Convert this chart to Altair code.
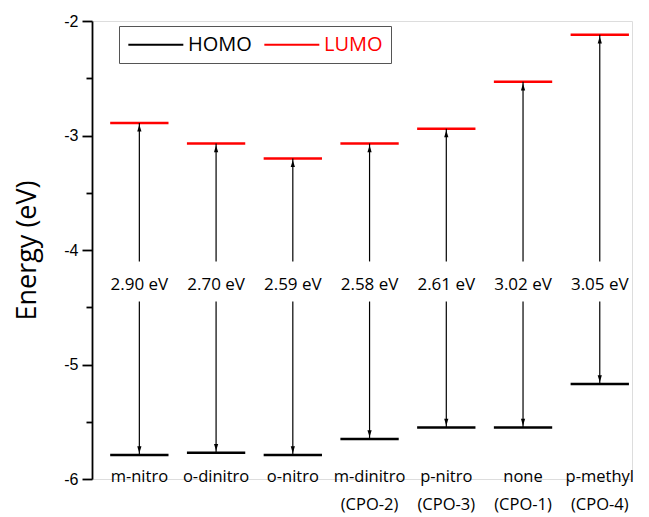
import altair as alt
import pandas as pd

categories = ["m-nitro", "o-dinitro", "o-nitro", "m-dinitro\n(CPO-2)",
              "p-nitro\n(CPO-3)", "none\n(CPO-1)", "p-methyl\n(CPO-4)"]
homo = [-5.79, -5.77, -5.79, -5.65, -5.55, -5.55, -5.17]
lumo = [-2.89, -3.07, -3.20, -3.07, -2.94, -2.53, -2.12]
gap_labels = ["2.90 eV", "2.70 eV", "2.59 eV", "2.58 eV", "2.61 eV", "3.02 eV", "3.05 eV"]
y_ticks = [-6, -5.5, -5, -4.5, -4, -3.5, -3, -2.5, -2]

pos = list(range(1, len(categories) + 1))
base_df = pd.DataFrame({"pos": pos, "cat": categories, "homo": homo,
                        "lumo": lumo, "gap": gap_labels})
levels_df = pd.DataFrame({
    "pos": pos + pos,
    "orbital": ["HOMO"] * len(pos) + ["LUMO"] * len(pos),
    "energy": homo + lumo,
})

FONT = "Open Sans"
xs = alt.Scale(domain=[0.383, 7.42], nice=False, zero=False)
ys = alt.Scale(domain=[-6, -2], nice=False, zero=False)

levels = alt.Chart(levels_df).transform_calculate(
    x1="datum.pos - 0.38", x2="datum.pos + 0.38"
).mark_rule(strokeWidth=2.5).encode(
    x=alt.X("x1:Q", scale=xs, axis=None),
    x2="x2:Q",
    y=alt.Y("energy:Q", scale=ys, title="Energy (eV)",
            axis=alt.Axis(values=y_ticks,
                          labelExpr="datum.value % 1 === 0 ? '' + datum.value : ''",
                          tickSize={"condition": {"test": "datum.value % 1 === 0", "value": 10}, "value": 6},
                          tickWidth=1.8, domainWidth=1.8, domainColor="black", tickColor="black",
                          labelFont="Liberation Sans", labelFontSize=16, labelColor="black",
                          labelPadding=4, grid=False,
                          titleFont=FONT, titleFontSize=27, titleFontWeight="normal",
                          titleColor="black", titlePadding=22)),
    color=alt.Color("orbital:N",
                    scale=alt.Scale(domain=["HOMO", "LUMO"], range=["black", "red"]),
                    legend=alt.Legend(title=None, orient="none", legendX=27, legendY=5,
                                      direction="horizontal", symbolType="M-1,0H5",
                                      symbolSize=336, symbolStrokeWidth=2,
                                      labelFont=FONT, labelFontSize=20,
                                      labelColor={"expr": "datum.label == 'LUMO' ? 'red' : 'black'"},
                                      labelOffset=40, columnPadding=8, padding=8,
                                      strokeColor="#555555", symbolOffset=0)),
)

upper = alt.Chart(base_df).transform_calculate(brk="-4.1").mark_rule(
    strokeWidth=1.2, color="black").encode(
    x=alt.X("pos:Q", scale=xs), y=alt.Y("lumo:Q", scale=ys), y2="brk:Q")
lower = alt.Chart(base_df).transform_calculate(brk="-4.45").mark_rule(
    strokeWidth=1.2, color="black").encode(
    x=alt.X("pos:Q", scale=xs), y=alt.Y("homo:Q", scale=ys), y2="brk:Q")

head_up = alt.Chart(base_df).mark_point(
    shape="M0,0.6L-0.7,2.9L0.7,2.9Z", filled=True, color="black", size=36, opacity=1
).encode(x=alt.X("pos:Q", scale=xs), y=alt.Y("lumo:Q", scale=ys))
head_down = alt.Chart(base_df).mark_point(
    shape="M0,-0.6L-0.7,-2.9L0.7,-2.9Z", filled=True, color="black", size=36, opacity=1
).encode(x=alt.X("pos:Q", scale=xs), y=alt.Y("homo:Q", scale=ys))

gap_text = alt.Chart(base_df).transform_calculate(yl="-4.31").mark_text(
    font=FONT, fontSize=17, color="black", baseline="middle", align="center"
).encode(x=alt.X("pos:Q", scale=xs), y=alt.Y("yl:Q", scale=ys), text="gap:N")

cat_text = alt.Chart(base_df).transform_calculate(yl="-6").mark_text(
    font=FONT, fontSize=16.5, color="black", baseline="top", align="center",
    lineBreak="\n", lineHeight=28, dy=-10
).encode(x=alt.X("pos:Q", scale=xs), y=alt.Y("yl:Q", scale=ys), text="cat:N")

chart = alt.layer(levels, upper, lower, head_up, head_down, gap_text, cat_text).properties(
    width=540, height=458,
    padding={"left": 5, "top": 5, "right": 0, "bottom": 0},
).configure_view(stroke=None).configure(background="white")

chart.save("out.html", embed_options={"renderer": "svg", "actions": False})
